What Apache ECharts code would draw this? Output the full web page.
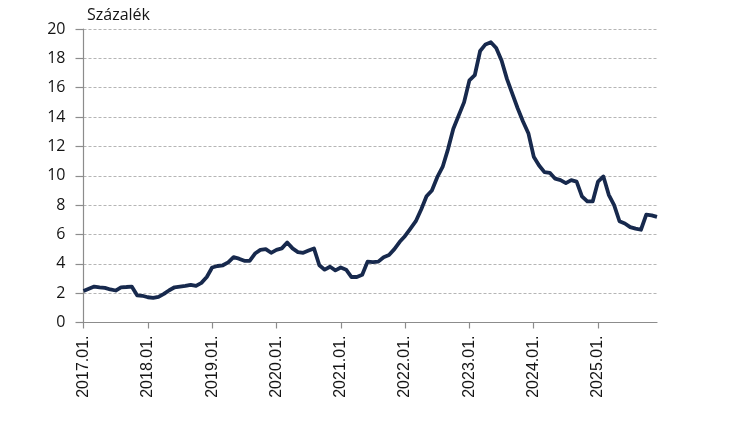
<!DOCTYPE html>
<html>
<head>
<meta charset="utf-8">
<script src="https://cdn.jsdelivr.net/npm/echarts@6/dist/echarts.min.js"></script>
<style>
html,body{margin:0;padding:0;background:#fff;}
#chart{width:730px;height:429px;}
</style>
</head>
<body>
<div id="chart"></div>
<script>
// Monthly categories 2017.01 – 2025.12
const years = [2017, 2018, 2019, 2020, 2021, 2022, 2023, 2024, 2025];
const months = ["01","02","03","04","05","06","07","08","09","10","11","12"];
const categories = [];
years.forEach(y => months.forEach(m => categories.push(y + "." + m + ".")));

// Values (Százalék)
const values2017 = [2.15, 2.3, 2.45, 2.4, 2.36, 2.25, 2.18, 2.4, 2.42, 2.45, 1.85, 1.82];
const values2018 = [1.72, 1.68, 1.75, 1.95, 2.2, 2.4, 2.45, 2.5, 2.57, 2.5, 2.7, 3.1];
const values2019 = [3.75, 3.85, 3.9, 4.1, 4.45, 4.35, 4.2, 4.2, 4.7, 4.95, 5.0, 4.75];
const values2020 = [4.95, 5.05, 5.45, 5.05, 4.8, 4.75, 4.9, 5.05, 3.9, 3.6, 3.8, 3.55];
const values2021 = [3.75, 3.6, 3.1, 3.1, 3.25, 4.15, 4.12, 4.15, 4.45, 4.6, 5.0, 5.5];
const values2022 = [5.9, 6.4, 6.9, 7.7, 8.6, 9.0, 9.9, 10.6, 11.8, 13.2, 14.1, 15.0];
const values2023 = [16.5, 16.85, 18.5, 18.95, 19.1, 18.7, 17.85, 16.6, 15.6, 14.6, 13.7, 12.9];
const values2024 = [11.3, 10.7, 10.25, 10.2, 9.8, 9.7, 9.5, 9.7, 9.6, 8.6, 8.25, 8.25];
const values2025 = [9.6, 9.95, 8.7, 8.0, 6.9, 6.75, 6.5, 6.4, 6.32, 7.35, 7.3, 7.2];
const values = [].concat(values2017, values2018, values2019, values2020, values2021,
  values2022, values2023, values2024, values2025);

const yTicks = [0, 2, 4, 6, 8, 10, 12, 14, 16, 18, 20];

const chart = echarts.init(document.getElementById('chart'), null, {renderer: 'canvas'});
chart.setOption({
  backgroundColor: '#ffffff',
  animation: false,
  grid: {left: 83.5, right: 73, top: 29, bottom: 106.5, containLabel: false},
  graphic: [{
    type: 'text', left: 87, top: 7,
    style: {text: 'Százalék', font: '16px "Open Sans"', fill: '#141414'}
  }],
  xAxis: {
    type: 'category',
    data: categories,
    boundaryGap: false,
    axisLine: {show: true, lineStyle: {color: '#8c8c8c', width: 1.2}},
    axisTick: {show: true, interval: 11, length: 6, lineStyle: {color: '#8c8c8c', width: 1.2}},
    axisLabel: {
      interval: 11, rotate: 90, margin: 13,
      fontFamily: 'Liberation Sans', fontSize: 16, color: '#141414'
    },
    splitLine: {show: false}
  },
  yAxis: {
    type: 'value',
    min: yTicks[0], max: yTicks[yTicks.length - 1], interval: 2,
    axisLine: {show: true, lineStyle: {color: '#8c8c8c', width: 1.2}},
    axisTick: {show: true, length: 8, lineStyle: {color: '#8c8c8c', width: 1.2}},
    axisLabel: {margin: 18, fontFamily: 'Open Sans', fontSize: 16, color: '#141414'},
    splitLine: {show: true, lineStyle: {color: '#b5b5b5', type: [3, 2], width: 1}}
  },
  series: [{
    type: 'line',
    data: values,
    showSymbol: false,
    symbol: 'none',
    lineStyle: {color: '#17294d', width: 3.8, join: 'round'},
    smooth: false
  }]
});
</script>
</body>
</html>
